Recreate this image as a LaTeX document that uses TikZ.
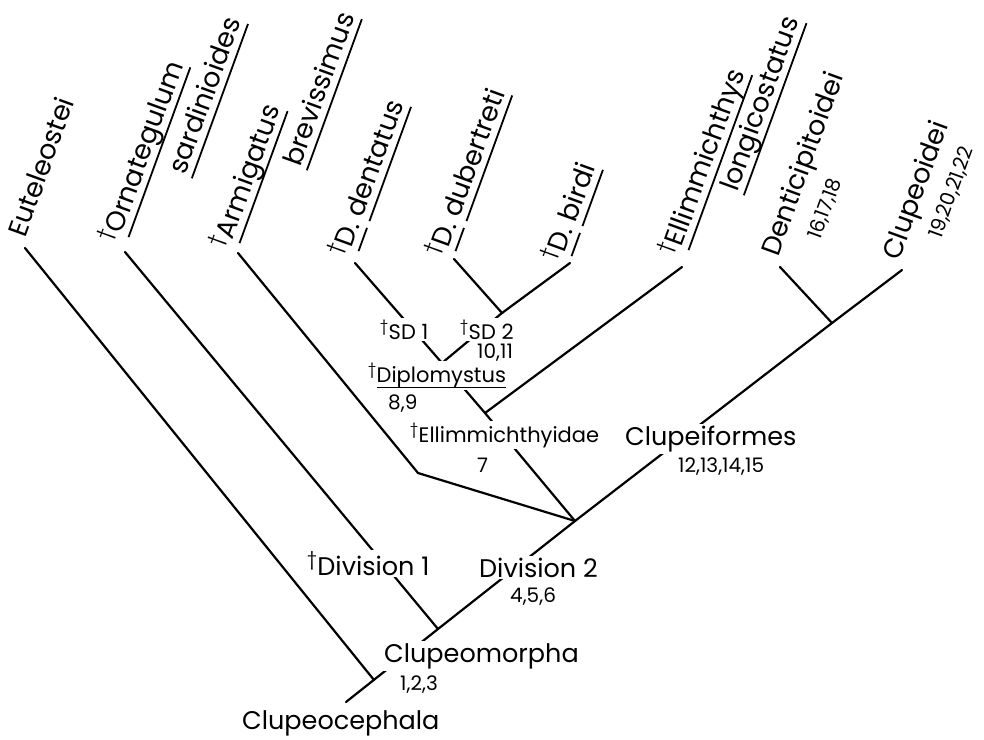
\documentclass[tikz,border=0pt]{standalone}
\usepackage{fontspec}
\setmainfont{Poppins}
\usetikzlibrary{positioning}
\tikzset{branch/.style = {line width = 2.2pt, line cap = round}}
\tikzset{lab/.style = {fill = white, inner sep = 2pt, anchor = base west, font = \fontsize{25.5}{28}\selectfont}}
\tikzset{smlab/.style = {lab, font = \fontsize{21}{24}\selectfont}}
\tikzset{num/.style = {anchor = base west, inner sep = 0, font = \fontsize{20}{22}\selectfont}}
\tikzset{tip/.style = {rotate = 70, anchor = base west, inner sep = 0, font = \fontsize{27}{30}\selectfont}}
\tikzset{tipnum/.style = {tip, font = \fontsize{20}{22}\selectfont}}
\newcommand{\extinct}{\textsuperscript{\char"2020}}
\newcommand{\uln}[1]{\setbox0=\hbox{#1}\rlap{\rule[-0.3em]{\wd0}{1.8pt}}\box0}

\begin{document}
\begin{tikzpicture}[x = 1pt, y = -1pt]
    \useasboundingbox (0, 0) rectangle (984, 739);
    \coordinate (root) at (346, 702);
    \coordinate (eut) at (374, 680);
    \coordinate (cmorph) at (438, 629);
    \coordinate (div2) at (575, 521);
    \coordinate (arm) at (418, 473);
    \coordinate (ellim) at (485, 413);
    \coordinate (diplo) at (442, 363);
    \coordinate (sd2) at (502, 313);
    \coordinate (cform) at (832, 323);
    \coordinate (tEut) at (25, 248);
    \coordinate (tOrn) at (125, 252);
    \coordinate (tArm) at (238, 253);
    \coordinate (tDen) at (355, 263);
    \coordinate (tDub) at (454, 259);
    \coordinate (tBir) at (570, 263);
    \coordinate (tEll) at (682, 267);
    \coordinate (tDtc) at (780, 267);
    \coordinate (tClu) at (902, 270);
    \draw [branch] (root) -- (cmorph) -- (div2) -- (cform) -- (tClu);
    \draw [branch] (eut) -- (tEut);
    \draw [branch] (cmorph) -- (tOrn);
    \draw [branch] (div2) -- (arm) -- (tArm);
    \draw [branch] (div2) -- (ellim) -- (diplo) -- (tDen);
    \draw [branch] (ellim) -- (tEll);
    \draw [branch] (diplo) -- (sd2) -- (tDub);
    \draw [branch] (sd2) -- (tBir);
    \draw [branch] (cform) -- (tDtc);
    \node [lab, fill = none] (nCceph) at (240, 729) {Clupeocephala};
    \node [lab] (nCmorph) at (382, 662) {Clupeomorpha};
    \node [num] (cCmorph) at (400, 690) {1,2,3};
    \node [lab] (nDiv1) at (305, 575) {\extinct Division 1};
    \node [lab] (nDiv2) at (477, 577) {Division 2};
    \node [num] (cDiv2) at (510, 602) {4,5,6};
    \node [lab] (nCform) at (623, 445) {Clupeiformes};
    \node [num] (cCform) at (678, 472) {12,13,14,15};
    \node [smlab] (nEllim) at (408, 442) {\extinct Ellimmichthyidae};
    \node [num] (cEllim) at (477, 472) {7};
    \node [smlab] (nDiplo) at (366, 382) {\extinct\uln{Diplomystus}};
    \node [num] (cDiplo) at (388, 409) {8,9};
    \node [smlab] (nSD1) at (378, 339) {\extinct SD 1};
    \node [smlab] (nSD2) at (458, 339) {\extinct SD 2};
    \node [num] (cSD2) at (477, 358) {10,11};
    \node [tip] (lEut) at (25, 239) {Euteleostei};
    \node [tip] (lOrn) at (118, 245) {\extinct\uln{Ornategulum}};
    \node [tip] (lOrn2) at (185, 176) {\uln{sardinioides}};
    \node [tip] (lArm) at (229, 251) {\extinct\uln{Armigatus}};
    \node [tip] (lArm2) at (300, 168) {\uln{brevissimus}};
    \node [tip] (lDen) at (348, 259) {\extinct\uln{D.}\ \uln{dentatus}};
    \node [tip] (lDub) at (445, 259) {\extinct\uln{D.}\ \uln{dubertreti}};
    \node [tip] (lBir) at (561, 264) {\extinct\uln{D.}\ \uln{birdi}};
    \node [tip] (lEll) at (678, 258) {\extinct\uln{Ellimmichthys}};
    \node [tip] (lEll2) at (737, 193) {\uln{longicostatus}};
    \node [tip] (lDtc) at (778, 258) {Denticipitoidei};
    \node [tipnum] (cDtc) at (820, 241) {16,17,18};
    \node [tip] (lClu) at (899, 262) {Clupeoidei};
    \node [tipnum] (cClu) at (941, 240) {19,20,21,22};
\end{tikzpicture}
\end{document}
